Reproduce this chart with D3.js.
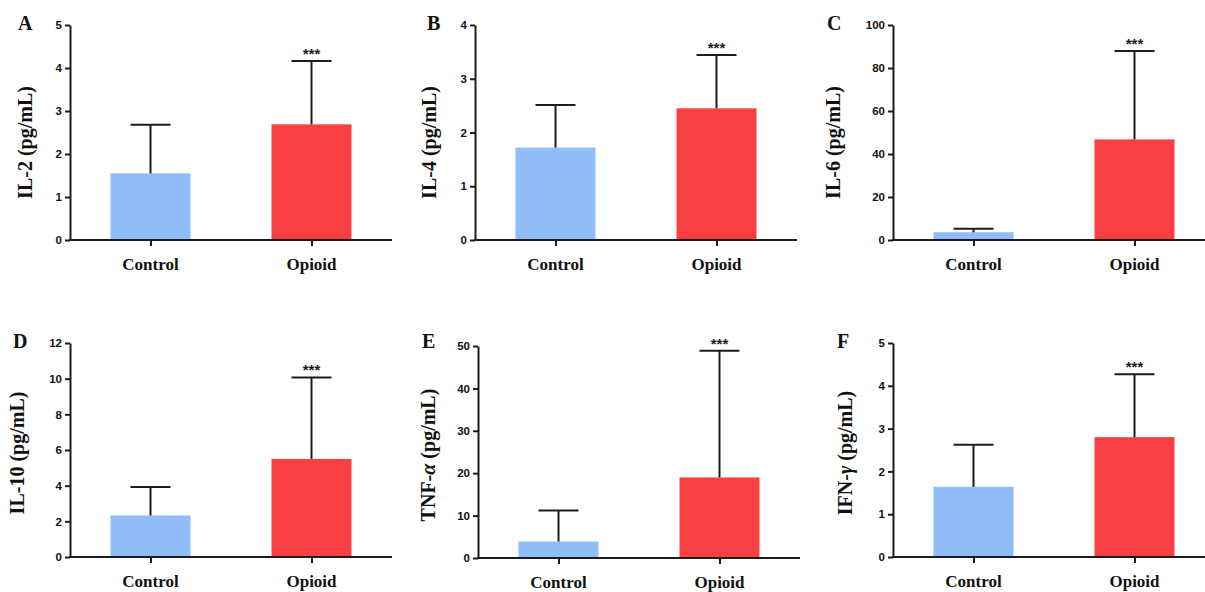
<!DOCTYPE html>
<html>
<head>
<meta charset="utf-8">
<script src="https://cdn.jsdelivr.net/npm/d3@7"></script>
<style>
  body { margin: 0; background: #fff; }
  svg { display: block; }
</style>
</head>
<body>
<svg id="chart" width="1205" height="592"></svg>
<script>
// values (mean, and the SD bar drawn above it)
const groups = ["Control", "Opioid"];
const letters = ["A", "B", "C", "D", "E", "F"];
const cytokines = ["IL-2", "IL-4", "IL-6", "IL-10", "TNF-α", "IFN-γ"];
const controlMean = [1.55, 1.72, 3.6, 2.33, 3.9, 1.64];
const controlSD = [1.13, 0.79, 1.6, 1.6, 7.3, 0.98];
const opioidMean = [2.69, 2.45, 46.8, 5.5, 19, 2.8];
const opioidSD = [1.47, 0.99, 41.1, 4.57, 29.9, 1.47];
const yMax = [5, 4, 100, 12, 50, 5];
const yStep = [1, 1, 20, 2, 10, 1];
const stars = ["***", "***", "***", "***", "***", "***"];

const colors = { Control: "#90bdf8", Opioid: "#f84042" };
const ink = "#1c1c1c";
const serif = "'Liberation Serif', 'Times New Roman', serif";
const sans = "'Liberation Sans', Arial, sans-serif";

// layout of the 2x3 grid
const axisX = [70, 475, 893, 70, 478, 893];
const rowTop = [25, 25, 25, 343, 346, 343];
const rowBottom = [240, 240, 240, 557, 558, 557];
const letterX = [18, 427, 827, 13, 422, 837];
const labelDx = [-45, -46, -60, -53, -50, -48];
const plotW = 322;
const barW = 80;
const capW = 40;

const svg = d3.select("#chart");

function drawPanel(i) {
  const g = svg.append("g");
  const x0 = axisX[i];

  const x = d3.scalePoint()
    .domain(groups)
    .range([x0, x0 + plotW])
    .padding(0.5);

  const y = d3.scaleLinear()
    .domain([0, yMax[i]])
    .range([rowBottom[i], rowTop[i]]);

  const rows = [
    { group: "Control", mean: controlMean[i], sd: controlSD[i] },
    { group: "Opioid", mean: opioidMean[i], sd: opioidSD[i] }
  ];

  // bars
  g.selectAll(".bar")
    .data(rows)
    .join("rect")
      .attr("class", "bar")
      .attr("x", d => x(d.group) - barW / 2)
      .attr("width", barW)
      .attr("y", d => y(d.mean))
      .attr("height", d => y(0) - y(d.mean))
      .attr("fill", d => colors[d.group]);

  // error bars, upper half only
  g.selectAll(".err")
    .data(rows)
    .join("line")
      .attr("class", "err")
      .attr("x1", d => x(d.group)).attr("x2", d => x(d.group))
      .attr("y1", d => y(d.mean)).attr("y2", d => y(d.mean + d.sd))
      .attr("stroke", ink).attr("stroke-width", 2);

  g.selectAll(".cap")
    .data(rows)
    .join("line")
      .attr("class", "cap")
      .attr("x1", d => x(d.group) - capW / 2).attr("x2", d => x(d.group) + capW / 2)
      .attr("y1", d => y(d.mean + d.sd)).attr("y2", d => y(d.mean + d.sd))
      .attr("stroke", ink).attr("stroke-width", 2);

  // significance over the opioid bar
  const op = rows[1];
  g.append("text")
    .attr("x", x(op.group))
    .attr("y", y(op.mean + op.sd) - 2)
    .attr("text-anchor", "middle")
    .attr("font-family", sans)
    .attr("font-weight", "bold")
    .attr("font-size", 15)
    .attr("fill", ink)
    .text(stars[i]);

  // y axis
  const yAxis = d3.axisLeft(y)
    .tickValues(d3.range(0, yMax[i] + yStep[i] / 2, yStep[i]))
    .tickFormat(d3.format("d"))
    .tickSize(5)
    .tickSizeOuter(0)
    .tickPadding(3);

  const ya = g.append("g")
    .attr("transform", `translate(${x0},0)`)
    .call(yAxis);
  ya.selectAll("path, line").attr("stroke", ink).attr("stroke-width", 2);
  ya.selectAll("text")
    .attr("font-family", sans)
    .attr("font-weight", "bold")
    .attr("font-size", 11.5)
    .attr("fill", "#111");

  // x axis
  const xAxis = d3.axisBottom(x)
    .tickSize(6)
    .tickSizeOuter(0)
    .tickFormat("");

  const xa = g.append("g")
    .attr("transform", `translate(0,${rowBottom[i]})`)
    .call(xAxis);
  xa.select(".domain").attr("d", `M${x0 - 1},0H${x0 + plotW}`);
  xa.selectAll("path, line").attr("stroke", ink).attr("stroke-width", 2);

  // category labels
  g.selectAll(".xlab")
    .data(groups)
    .join("text")
      .attr("class", "xlab")
      .attr("x", d => x(d))
      .attr("y", rowBottom[i] + 30)
      .attr("text-anchor", "middle")
      .attr("font-family", serif)
      .attr("font-weight", "bold")
      .attr("font-size", 17)
      .attr("fill", "#111")
      .text(d => d);

  // y title, greek letters in italics
  const mid = (rowTop[i] + rowBottom[i]) / 2 + (i < 3 ? 10 : 3);
  const title = g.append("text")
    .attr("transform", `translate(${x0 + labelDx[i]},${mid}) rotate(-90)`)
    .attr("text-anchor", "middle")
    .attr("dy", "0.35em")
    .attr("font-family", serif)
    .attr("font-weight", "bold")
    .attr("font-size", 20)
    .attr("fill", "#111");
  const name = cytokines[i];
  const greek = name.match(/[α-ω]$/);
  if (greek) {
    title.append("tspan").text(name.slice(0, -1));
    title.append("tspan").attr("font-style", "italic").text(greek[0]);
  } else {
    title.append("tspan").text(name);
  }
  title.append("tspan").text(" (pg/mL)");

  // panel letter
  g.append("text")
    .attr("x", letterX[i])
    .attr("y", i < 3 ? 30 : 348)
    .attr("font-family", serif)
    .attr("font-weight", "bold")
    .attr("font-size", 20)
    .attr("fill", "#111")
    .text(letters[i]);
}

letters.forEach((l, i) => drawPanel(i));
</script>
</body>
</html>
